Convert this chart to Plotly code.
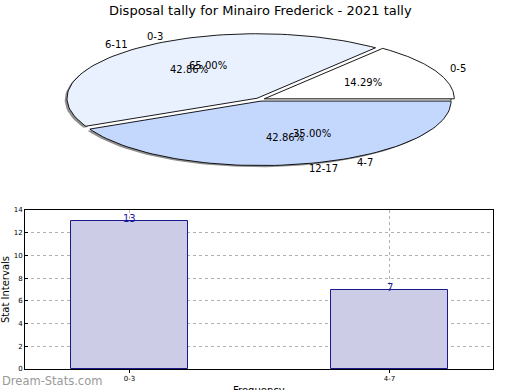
import numpy as np
import plotly.graph_objects as go

title = "Disposal tally for Minairo Frederick - 2021 tally"

# Pie 1 (frequency categories)
pie1_labels = ["0-3", "4-7"]
pie1_values = [13, 7]

# Pie 2 (age groups)
pie2_labels = ["0-5", "6-11", "12-17"]
pie2_values = [1, 3, 3]
pie2_colors = ["#ffffff", "#eaf1fe", "#c4d8fe"]

# Bar chart
bar_categories = ["0-3", "4-7"]
bar_values = [13, 7]
y_ticks = [0, 2, 4, 6, 8, 10, 12, 14]

W, H = 520, 390
A, B = 190.0, 64.5          # ellipse semi axes in px
CX, CY = 260.0, 99.5        # ellipse centre in px from top-left
EXPLODE = 0.025
FONT = "DejaVu Sans"

fig = go.Figure()

def angles(values):
    v = np.array(values, dtype=float)
    frac = v / v.sum()
    ends = np.cumsum(frac) * 2 * np.pi
    starts = ends - frac * 2 * np.pi
    return frac, starts, ends

def wedge(t1, t2, dx=0.0, dy=0.0, explode=EXPLODE, r=1.0):
    mid = (t1 + t2) / 2
    ox = explode * np.cos(mid) + dx
    oy = explode * np.sin(mid) + dy
    t = np.linspace(t1, t2, 80)
    xs = np.concatenate([[ox], ox + r * np.cos(t), [ox]])
    ys = np.concatenate([[oy], oy + r * np.sin(t), [oy]])
    return xs, ys

frac2, s2, e2 = angles(pie2_values)

# shadow
for t1, t2 in zip(s2, e2):
    xs, ys = wedge(t1, t2, dx=-0.012, dy=-0.025)
    fig.add_trace(go.Scatter(x=xs, y=ys, xaxis="x2", yaxis="y2", mode="lines",
                             fill="toself", fillcolor="rgba(70,70,70,0.6)",
                             line=dict(width=0), hoverinfo="skip", showlegend=False))
# white underlay so the gaps between slices stay white
for t1, t2 in zip(s2, e2):
    xs, ys = wedge(t1, t2, explode=0.0, r=1.0)
    fig.add_trace(go.Scatter(x=xs, y=ys, xaxis="x2", yaxis="y2", mode="lines",
                             fill="toself", fillcolor="white",
                             line=dict(width=0), hoverinfo="skip", showlegend=False))
# wedges
for t1, t2, c in zip(s2, e2, pie2_colors):
    xs, ys = wedge(t1, t2)
    fig.add_trace(go.Scatter(x=xs, y=ys, xaxis="x2", yaxis="y2", mode="lines",
                             fill="toself", fillcolor=c,
                             line=dict(width=0.9, color="black"),
                             hoverinfo="skip", showlegend=False))

annotations = []

def pie_labels(labels, values):
    frac, s, e = angles(values)
    for lab, f, t1, t2 in zip(labels, frac, s, e):
        mid = (t1 + t2) / 2
        lx, ly = 1.1 * np.cos(mid), 1.1 * np.sin(mid)
        annotations.append(dict(x=lx, y=ly, xref="x2", yref="y2", text=lab,
                                showarrow=False, xanchor="left" if lx > 0 else "right",
                                yanchor="middle", font=dict(size=10, color="black", family=FONT)))
        px, py = 0.6 * np.cos(mid), 0.6 * np.sin(mid)
        annotations.append(dict(x=px, y=py, xref="x2", yref="y2", text=f"{f*100:.2f}%",
                                showarrow=False, xanchor="center", yanchor="middle",
                                font=dict(size=10, color="black", family=FONT)))

pie_labels(pie1_labels, pie1_values)
pie_labels(pie2_labels, pie2_values)

# bars
fig.add_trace(go.Bar(x=bar_categories, y=bar_values, width=0.45,
                     marker=dict(color="#cccce6", line=dict(color="#1a1a8c", width=1)),
                     hoverinfo="skip", showlegend=False))
for c, v in zip(bar_categories, bar_values):
    annotations.append(dict(x=c, y=v, xref="x", yref="y", text=str(v), showarrow=False,
                            yanchor="bottom", yshift=-5,
                            font=dict(size=10, color="#1a1aa0", family=FONT)))

annotations.append(dict(x=0.5, y=1 - 10 / H, xref="paper", yref="paper", text=title,
                        showarrow=False, xanchor="center", yanchor="middle",
                        font=dict(size=13, color="black", family=FONT)))
annotations.append(dict(x=0, y=1 - 381 / H, xref="paper", yref="paper", text="Dream-Stats.com",
                        showarrow=False, xanchor="left", yanchor="middle",
                        font=dict(size=11.5, color="#999999", family=FONT)))
# x axis title (placed as in the reference, partly below the page edge)
annotations.append(dict(x=(25 + 493) / 2 / W, y=1 - 383 / H, xref="paper", yref="paper",
                        text="Frequency", showarrow=False, xanchor="center", yanchor="top",
                        font=dict(size=10, color="black", family=FONT)))

# pie axis mapping (domain y top half)
dom_top = 195.0
fig.update_layout(
    xaxis2=dict(domain=[0, 1], range=[-CX / A, (W - CX) / A], visible=False,
                fixedrange=True, anchor="y2", automargin=False),
    yaxis2=dict(domain=[1 - dom_top / H, 1], range=[-(dom_top - CY) / B, CY / B],
                visible=False, fixedrange=True, anchor="x2", automargin=False),
)

x0, x1 = 25.0, 493.0
c0, c1 = 129.5, 389.5
unit = c1 - c0
fig.update_layout(
    xaxis=dict(domain=[x0 / W, x1 / W], range=[-(c0 - x0) / unit, 1 + (x1 - c1) / unit],
               showgrid=True, gridcolor="#b0b0b0", griddash="dot", gridwidth=1,
               layer="above traces", showline=True, linecolor="black", mirror=True,
               ticks="outside", ticklen=3, tickcolor="black",
               tickfont=dict(size=7, family=FONT, color="black"),
               fixedrange=True, zeroline=False, anchor="y", automargin=False),
    yaxis=dict(domain=[(H - 369) / H, (H - 210) / H], range=[0, 14], tickvals=y_ticks,
               showgrid=True, gridcolor="#b0b0b0", griddash="dot", gridwidth=1,
               showline=True, linecolor="black", mirror=True,
               ticks="inside", ticklen=3, tickcolor="black",
               tickfont=dict(size=7, family=FONT, color="black"),
               title=dict(text="Stat Intervals", font=dict(size=10, family=FONT, color="black"),
                          standoff=4),
               fixedrange=True, zeroline=False, anchor="x", automargin=False),
    width=W, height=H, margin=dict(l=0, r=0, t=0, b=0),
    paper_bgcolor="white", plot_bgcolor="white",
    annotations=annotations, bargap=0, showlegend=False,
    font=dict(family=FONT),
)

fig.write_html("out.html", config={"displayModeBar": False},
               post_script="document.body.style.margin='0';document.body.style.overflow='hidden';")
